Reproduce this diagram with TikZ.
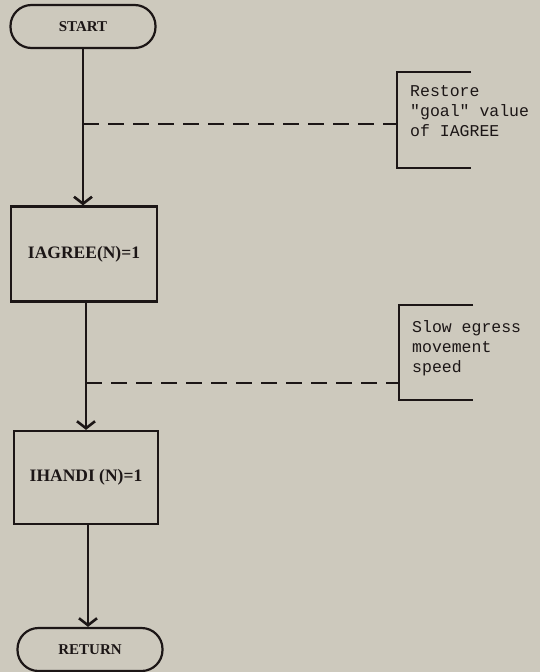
\documentclass[tikz,border=0pt]{standalone}
\usepackage{fontspec}
\setmainfont{Liberation Serif}
\setmonofont{Liberation Mono}
\usetikzlibrary{arrows.meta}
\definecolor{paper}{RGB}{205,201,189}
\definecolor{ink}{RGB}{28,22,22}
\tikzset{
  flow/.style={draw=ink, line width=2.2pt},
  term/.style={flow, rounded corners=21pt, minimum width=145pt, minimum height=43pt, inner sep=0pt, font=\fontsize{15}{17}\selectfont\bfseries, text=ink},
  procbox/.style={flow, minimum width=146pt, minimum height=95pt, inner sep=0pt, font=\fontsize{17.5}{20}\selectfont\bfseries, text=ink},
  conn/.style={flow, -{Straight Barb[length=7pt,width=18pt,line width=2.6pt]}},
  note/.style={align=left, inner sep=0pt, text=ink, font=\fontsize{16.5}{20}\selectfont\ttfamily},
  dashline/.style={draw=ink, line width=1.8pt, dash pattern=on 16pt off 9pt},
  bracket/.style={draw=ink, line width=2.2pt}
}
\begin{document}
\begin{tikzpicture}[x=1pt,y=1pt]
\fill[paper] (0,0) rectangle (540,-672);
\useasboundingbox (0,0) rectangle (540,-672);

\node[term] (start) at (83,-26.5) {START};
\node[procbox] (agree) at (84,-254) {IAGREE(N)=1};
\node[procbox, minimum width=144pt, minimum height=93pt] (handi) at (86,-477.5) {IHANDI (N)=1};
\node[term] (ret) at (90,-649.5) {RETURN};

\draw[conn] (start.south) -- (start.south |- agree.north);
\draw[conn] (86,-302) coordinate (a2) -- (a2 |- handi.north);
\draw[conn] (88,-524) coordinate (a3) -- (a3 |- ret.north);

% annotation 1
\coordinate (b1t) at (397,-72);
\coordinate (b1m) at (397,-124);
\coordinate (b1b) at (397,-168);
\draw[bracket] (471,-72) -- (b1t) -- (b1b) -- (471,-168);
\draw[dashline] (start.south |- b1m) -- (b1m);
\node[note, anchor=north west] (n1) at (410,-85) {Restore\\"goal" value\\of IAGREE};

% annotation 2
\coordinate (b2t) at (399,-305);
\coordinate (b2m) at (399,-383);
\coordinate (b2b) at (399,-400);
\draw[bracket] (473,-305) -- (b2t) -- (b2b) -- (473,-400);
\draw[dashline] (a2 |- b2m) -- (b2m);
\node[note, anchor=north west] (n2) at (412,-320) {Slow egress\\movement\\speed};
\end{tikzpicture}
\end{document}
